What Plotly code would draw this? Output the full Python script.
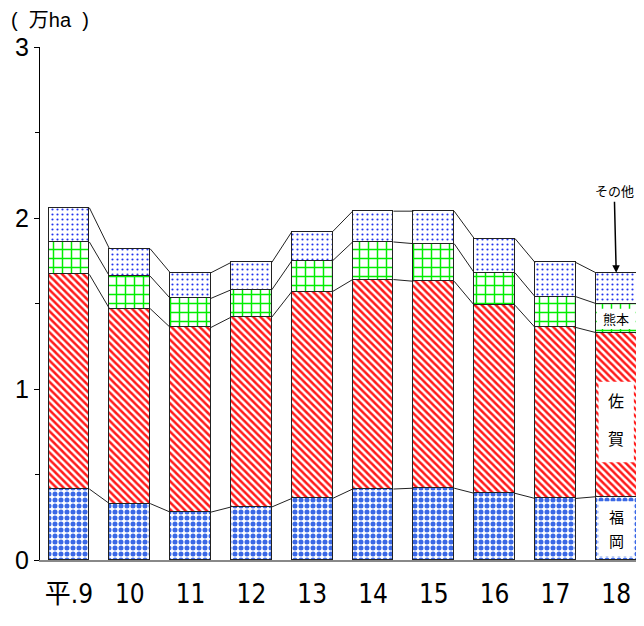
import plotly.graph_objects as go

years = ["平.9", "10", "11", "12", "13", "14", "15", "16", "17", "18"]
fukuoka = [0.415, 0.33, 0.28, 0.31, 0.36, 0.415, 0.42, 0.39, 0.36, 0.37]
saga = [1.255, 1.14, 1.08, 1.11, 1.21, 1.225, 1.21, 1.10, 1.00, 0.96]
kumamoto = [0.19, 0.19, 0.17, 0.16, 0.18, 0.22, 0.22, 0.19, 0.18, 0.17]
others = [0.20, 0.16, 0.15, 0.16, 0.17, 0.18, 0.19, 0.20, 0.20, 0.18]

xi = list(range(len(years)))
W = 0.67
FONT = "Liberation Sans, Noto Sans CJK JP"
JP = "Noto Sans CJK JP"

series = [
    ("福岡", fukuoka, dict(shape=".", fgcolor="#3a68e6", bgcolor="white", size=6, solidity=0.55, fillmode="replace")),
    ("佐賀", saga, dict(shape="\\", fgcolor="#ff1a1a", bgcolor="white", size=5, solidity=0.5, fillmode="replace")),
    ("熊本", kumamoto, dict(shape="+", fgcolor="#00ee00", bgcolor="white", size=9, solidity=0.3, fillmode="replace")),
    ("その他", others, dict(shape=".", fgcolor="#2233ee", bgcolor="white", size=5, solidity=0.15, fillmode="replace")),
]

fig = go.Figure()
for name, vals, pat in series:
    fig.add_trace(go.Bar(x=xi, y=vals, name=name, width=W,
                         marker=dict(color="white", pattern=pat,
                                     line=dict(color="#222222", width=1)),
                         showlegend=False))

# cumulative levels and connecting lines
cum = []
run = [0.0] * len(xi)
for _, vals, _ in series:
    run = [a + b for a, b in zip(run, vals)]
    cum.append(list(run))

lx, ly = [], []
for level in cum:
    for i in range(len(xi) - 1):
        lx += [xi[i] + W / 2, xi[i + 1] - W / 2, None]
        ly += [level[i], level[i + 1], None]
fig.add_trace(go.Scatter(x=lx, y=ly, mode="lines",
                         line=dict(color="#222222", width=1),
                         showlegend=False, hoverinfo="skip"))

last = len(xi) - 1
b = fukuoka[last]
r = saga[last]
k = kumamoto[last]
o = others[last]

shapes = [
    dict(type="rect", xref="x", yref="y", x0=last - 0.29, x1=last + 0.29,
         y0=b + r * 0.21, y1=b + r * 0.70, fillcolor="white", line=dict(width=0), layer="above"),
    dict(type="rect", xref="x", yref="y", x0=last - 0.29, x1=last + 0.29,
         y0=b * 0.06, y1=b * 0.93, fillcolor="white", line=dict(width=0), layer="above"),
    dict(type="rect", xref="x", yref="y", x0=last - 0.32, x1=last + 0.32,
         y0=b + r + k * 0.12, y1=b + r + k * 0.82, fillcolor="white", line=dict(width=0), layer="above"),
]

annotations = [
    dict(x=0, y=1, xref="paper", yref="paper", xanchor="left", yanchor="bottom",
         xshift=-31, yshift=14, text="(&nbsp;&nbsp;万ha&nbsp;&nbsp;)", showarrow=False,
         font=dict(size=20, family=FONT, color="black")),
    dict(x=last, y=b + r + k + o, text="その他", showarrow=True, ax=-2, ay=-82,
         arrowhead=2, arrowsize=1, arrowwidth=1.5, arrowcolor="black",
         font=dict(size=13, family=JP, color="black")),
    dict(x=last, y=b + r + k * 0.47, text="熊本", showarrow=False,
         font=dict(size=13, family=JP, color="black")),
    dict(x=last, y=b + r * 0.59, text="佐", showarrow=False,
         font=dict(size=16, family=JP, color="black")),
    dict(x=last, y=b + r * 0.36, text="賀", showarrow=False,
         font=dict(size=16, family=JP, color="black")),
    dict(x=last, y=b * 0.68, text="福", showarrow=False,
         font=dict(size=15, family=JP, color="black")),
    dict(x=last, y=b * 0.31, text="岡", showarrow=False,
         font=dict(size=15, family=JP, color="black")),
]

fig.update_layout(
    barmode="stack",
    width=636, height=618,
    margin=dict(l=32, r=0, t=39, b=66),
    plot_bgcolor="white", paper_bgcolor="white",
    bargap=0,
    shapes=shapes,
    annotations=annotations,
    xaxis=dict(range=[-0.477, 9.457], tickvals=xi, ticktext=years,
               showline=True, linecolor="#888888", linewidth=2,
               showgrid=False, zeroline=False, ticks="", ticklabelstandoff=10,
               tickfont=dict(size=26, family="DejaVu Sans Condensed, Liberation Sans, Noto Sans CJK JP", color="black")),
    yaxis=dict(range=[0, 3], dtick=1, tick0=0, showline=True, linecolor="black",
               linewidth=1, ticks="outside", ticklen=5, tickcolor="black",
               showgrid=False, zeroline=False,
               minor=dict(dtick=0.5, ticks="outside", ticklen=4, tickcolor="black"),
               tickfont=dict(size=25, family=FONT, color="black")),
)

fig.write_html("out.html")
